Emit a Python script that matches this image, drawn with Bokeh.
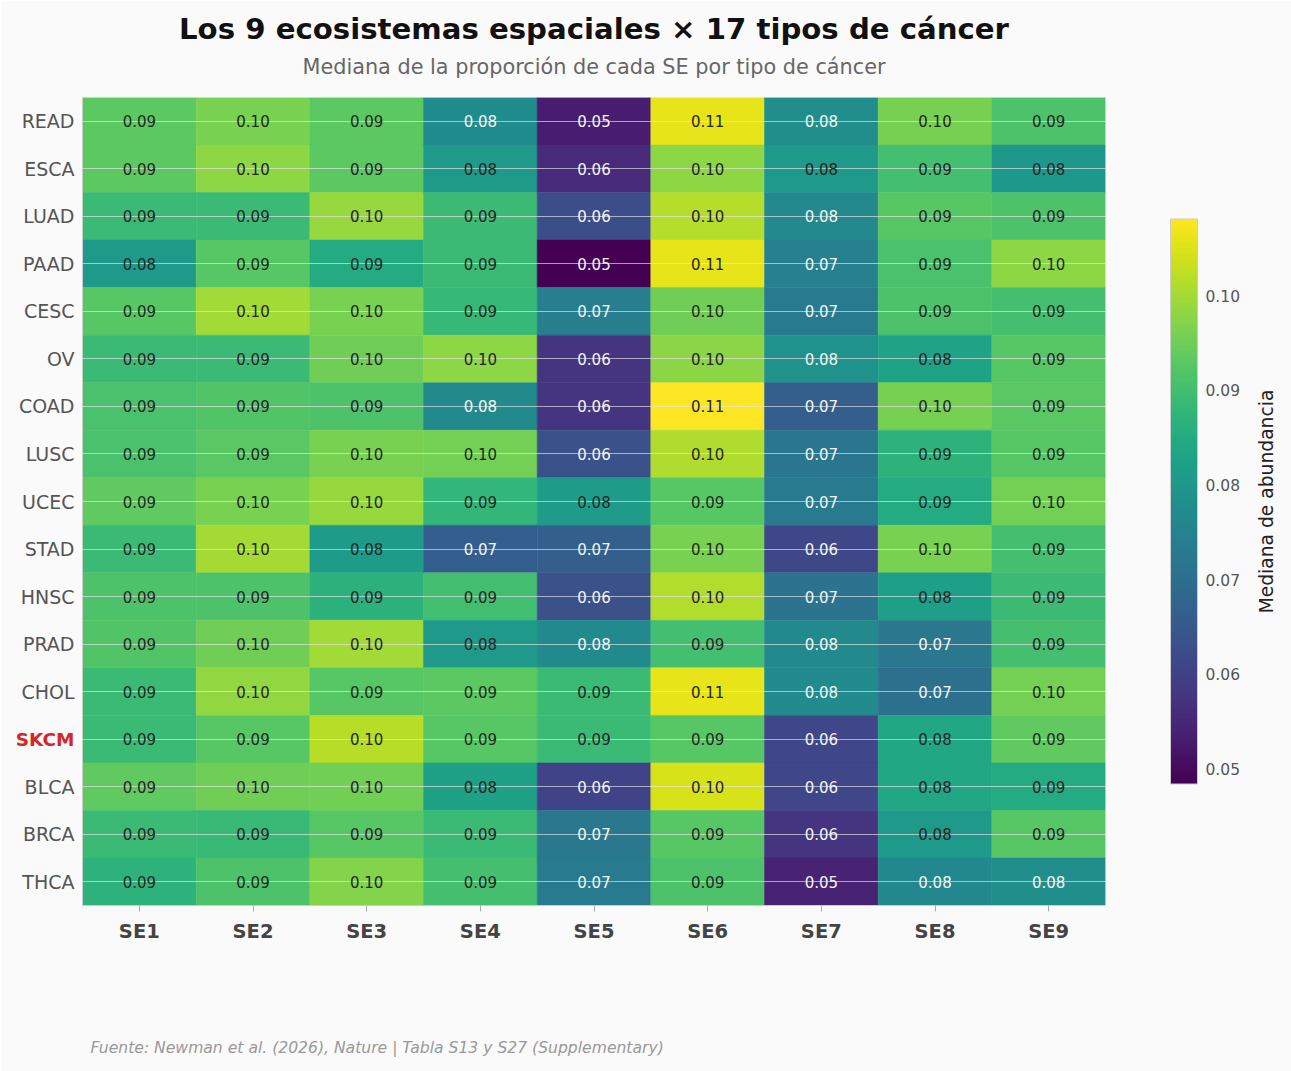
import math

from bokeh.plotting import figure
from bokeh.core.properties import value
from bokeh.models import (ColumnDataSource, LinearColorMapper, ColorBar, FixedTicker,
                          LabelSet, Label, PrintfTickFormatter, CustomJSTickFormatter)
from bokeh.palettes import Viridis256
from bokeh.embed import file_html
from bokeh.resources import INLINE

# Cancer types, top to bottom
cancers = ["READ", "ESCA", "LUAD", "PAAD", "CESC", "OV", "COAD", "LUSC", "UCEC",
           "STAD", "HNSC", "PRAD", "CHOL", "SKCM", "BLCA", "BRCA", "THCA"]
ecosystems = ["SE1", "SE2", "SE3", "SE4", "SE5", "SE6", "SE7", "SE8", "SE9"]
highlight = "SKCM"

# Median abundance of each spatial ecosystem, one list per ecosystem (same order as cancers)
se1 = [0.0930, 0.0930, 0.0890, 0.0805, 0.0925, 0.0890, 0.0910, 0.0910, 0.0935,
       0.0892, 0.0915, 0.0920, 0.0890, 0.0890, 0.0935, 0.0890, 0.0870]
se2 = [0.0962, 0.0980, 0.0890, 0.0925, 0.0998, 0.0892, 0.0920, 0.0928, 0.0962,
       0.1000, 0.0915, 0.0952, 0.0985, 0.0925, 0.0952, 0.0888, 0.0915]
se3 = [0.0930, 0.0930, 0.0990, 0.0852, 0.0962, 0.0952, 0.0915, 0.0962, 0.0990,
       0.0812, 0.0868, 0.0998, 0.0925, 0.1018, 0.0953, 0.0925, 0.0970]
se4 = [0.0775, 0.0805, 0.0893, 0.0890, 0.0885, 0.0980, 0.0770, 0.0957, 0.0880,
       0.0663, 0.0900, 0.0808, 0.0930, 0.0925, 0.0825, 0.0890, 0.0905]
se5 = [0.0530, 0.0557, 0.0627, 0.0484, 0.0740, 0.0575, 0.0575, 0.0633, 0.0815,
       0.0665, 0.0632, 0.0768, 0.0890, 0.0890, 0.0603, 0.0722, 0.0728]
se6 = [0.1058, 0.0980, 0.1015, 0.1058, 0.0952, 0.0978, 0.1081, 0.1010, 0.0925,
       0.0962, 0.1012, 0.0902, 0.1058, 0.0925, 0.1045, 0.0925, 0.0915]
se7 = [0.0778, 0.0805, 0.0765, 0.0745, 0.0730, 0.0790, 0.0665, 0.0718, 0.0728,
       0.0610, 0.0712, 0.0770, 0.0772, 0.0610, 0.0610, 0.0573, 0.0540]
se8 = [0.0958, 0.0902, 0.0925, 0.0910, 0.0915, 0.0830, 0.0958, 0.0870, 0.0852,
       0.0962, 0.0820, 0.0720, 0.0705, 0.0840, 0.0840, 0.0808, 0.0762]
se9 = [0.0915, 0.0803, 0.0915, 0.0980, 0.0905, 0.0925, 0.0928, 0.0925, 0.0957,
       0.0905, 0.0893, 0.0905, 0.0957, 0.0935, 0.0852, 0.0925, 0.0780]
columns = [se1, se2, se3, se4, se5, se6, se7, se8, se9]

cbar_ticks = [0.05, 0.06, 0.07, 0.08, 0.09, 0.10]
light_text_below = 0.08

FONT = "DejaVu Sans"
BG = "#fafafa"

xs, ys, vals = [], [], []
for se, col in zip(ecosystems, columns):
    for cancer, v in zip(cancers, col):
        xs.append(se)
        ys.append(cancer)
        vals.append(v)

source = ColumnDataSource(dict(
    x=xs, y=ys, value=vals,
    label=[f"{v:.2f}" for v in vals],
    text_color=["#f5f5f5" if v < light_text_below else "#262626" for v in vals],
))

mapper = LinearColorMapper(palette=Viridis256, low=min(vals), high=max(vals))

FW, FH = 1023, 808
n_rows, n_cols = len(cancers), len(ecosystems)
row_px = FH / n_rows   # pixels per category step, used to place free text around the frame
col_px = FW / n_cols

p = figure(x_range=ecosystems, y_range=list(reversed(cancers)),
           frame_width=FW, frame_height=FH,
           min_border_left=82, min_border_top=97, min_border_bottom=166, min_border_right=186,
           output_backend="svg", toolbar_location=None,
           background_fill_color=BG, border_fill_color=BG, outline_line_color=None)

p.rect(x="x", y="y", width=1, height=1, source=source,
       fill_color={"field": "value", "transform": mapper},
       line_color={"field": "value", "transform": mapper}, line_width=0.5)

# grid lines at row centres, drawn above the cells
p.xgrid.grid_line_color = None
p.ygrid.grid_line_color = "#e8e8e8"
p.ygrid.grid_line_alpha = 0.65
p.ygrid.grid_line_width = 1
p.ygrid.level = "guide"

p.xaxis.axis_line_color = "#cccccc"
p.xaxis.major_tick_line_color = "#aaaaaa"
p.xaxis.major_tick_out = 6
p.xaxis.major_tick_in = 0
p.xaxis.major_label_standoff = 8
p.xaxis.major_label_text_font = FONT
p.xaxis.major_label_text_font_style = "bold"
p.xaxis.major_label_text_font_size = "19.5px"
p.xaxis.major_label_text_color = "#444444"

p.yaxis.axis_line_color = "#cccccc"
p.yaxis.major_tick_line_color = None
p.yaxis.major_tick_out = 0
p.yaxis.major_tick_in = 0
p.yaxis.major_label_standoff = 8
p.yaxis.major_label_text_font = FONT
p.yaxis.major_label_text_font_size = "19px"
p.yaxis.major_label_text_color = "#555555"
# the highlighted type gets its own red label below
p.yaxis.formatter = CustomJSTickFormatter(args=dict(hl=highlight),
                                          code="return tick == hl ? '' : tick;")

labels = LabelSet(x="x", y="y", text="label", source=source,
                  text_align="center", text_baseline="middle",
                  text_font=value(FONT), text_font_size=value("15px"), text_color="text_color")
p.add_layout(labels)

# title and subtitle above the frame
p.add_layout(Label(x=n_cols / 2, y=n_rows + 69 / row_px,
                   text="Los 9 ecosistemas espaciales × 17 tipos de cáncer",
                   text_align="center", text_baseline="middle",
                   text_font=FONT, text_font_style="bold", text_font_size="29.2px",
                   text_color="#111111"), "above")
p.add_layout(Label(x=n_cols / 2, y=n_rows + 31 / row_px,
                   text="Mediana de la proporción de cada SE por tipo de cáncer",
                   text_align="center", text_baseline="middle",
                   text_font=FONT, text_font_size="20.8px", text_color="#666666"), "above")

# highlighted cancer type on the y axis
hl_y = n_rows - 1 - cancers.index(highlight) + 0.5
p.add_layout(Label(x=-8, x_units="screen", y=hl_y, y_units="data", text=highlight,
                   text_align="right", text_baseline="middle", text_font=FONT,
                   text_font_style="bold", text_font_size="18.5px", text_color="#d62728"),
             "below")

# source note
p.add_layout(Label(x=8 / col_px, y=-142 / row_px,
                   text="Fuente: Newman et al. (2026), Nature | Tabla S13 y S27 (Supplementary)",
                   text_align="left", text_baseline="middle",
                   text_font=FONT, text_font_style="italic", text_font_size="15.6px",
                   text_color="#999999"), "below")

cb = ColorBar(color_mapper=mapper, ticker=FixedTicker(ticks=cbar_ticks),
              formatter=PrintfTickFormatter(format="%.2f"),
              width=27, height=565, location=(55, 111.5), padding=10,
              major_tick_line_color=None, minor_tick_line_color=None,
              bar_line_color="#cccccc", label_standoff=8,
              major_label_text_font=FONT, major_label_text_font_size="15.5px",
              major_label_text_color="#555555",
              background_fill_color=None, border_line_color=None)
p.add_layout(cb, "right")

p.add_layout(Label(x=n_cols + 161 / col_px, y=n_rows / 2,
                   text="Mediana de abundancia", angle=math.pi / 2,
                   text_align="center", text_baseline="middle",
                   text_font=FONT, text_font_size="18.7px", text_color="#222222"), "right")

open("out.html", "w").write(file_html(p, INLINE))
